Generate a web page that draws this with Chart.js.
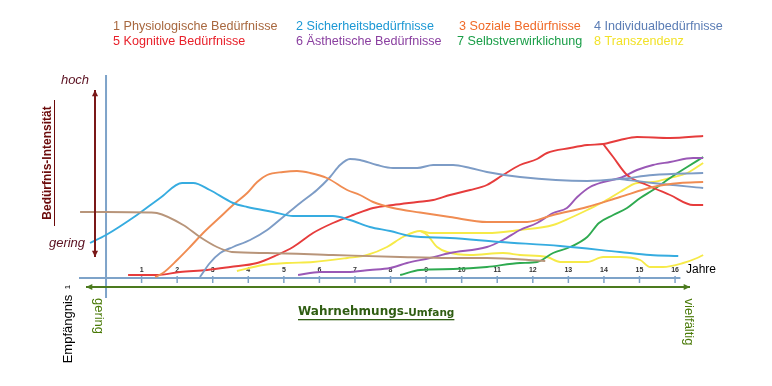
<!DOCTYPE html>
<html>
<head>
<meta charset="utf-8">
<script src="https://cdn.jsdelivr.net/npm/chart.js@4"></script>
<style>
  body { margin: 0; background: #fff; }
  canvas { display: block; }
</style>
</head>
<body>
<canvas id="bedarf" width="772" height="386"></canvas>
<script>
// Jahre (x) und Intensität 0..100 (y)
const jahrTicks = [1, 2, 3, 4, 5, 6, 7, 8, 9, 10, 11, 12, 13, 14, 15, 16];

const physioX = [-0.73, 0, 1.24, 1.43, 2.17, 2.64, 3.12, 3.54, 4.53, 6.38, 8.27, 9.67, 10.71, 12.35];
const physioY = [33, 33, 32.75, 32.5, 26.5, 20.5, 15.5, 13, 12.5, 11.5, 10.5, 10, 10, 8.5];

const sicherX = [-0.45, 0, 0.87, 1.52, 2.14, 2.45, 2.92, 3.57, 3.97, 4.70, 5.26, 6.38, 6.86, 7.42, 7.99, 8.55, 9.67, 11.08, 12.77, 14.45, 15.3, 16.09];
const sicherY = [17.5, 21.5, 31.5, 40, 47.5, 47.5, 44, 37.5, 35.5, 33, 31, 31, 29, 25.5, 23.5, 21, 20, 18, 16, 13, 11.5, 11];

const sozialX = [1.38, 1.60, 2.00, 2.36, 2.73, 3.21, 3.57, 3.97, 4.25, 4.53, 4.98, 5.37, 5.74, 6.21, 6.78, 7.14, 7.51, 8.07, 8.83, 9.67, 10.71, 11.84, 12.57, 13.53, 14.45, 15.38, 16.14, 16.79];
const sozialY = [0.5, 2.5, 9, 15.5, 22.5, 30.5, 36.5, 42.5, 48, 51.5, 53, 53.5, 52.5, 50, 44, 41.5, 38, 35, 32.75, 30.5, 28, 28, 31.5, 35.5, 40.5, 45.5, 47.5, 48];

const individX = [2.64, 2.92, 3.21, 3.57, 4.05, 4.53, 4.98, 5.46, 5.93, 6.30, 6.58, 6.86, 7.14, 7.62, 8.07, 8.75, 9.20, 9.76, 10.24, 10.71, 11.64, 13.53, 14.45, 15.38, 16.79];
const individY = [0.5, 7.5, 12.5, 15.5, 19, 24, 30.5, 37.5, 44, 50.5, 56.5, 59.5, 59, 56.5, 55, 55, 56.5, 56.5, 55, 53, 50.5, 48.5, 49.5, 51.5, 52.5];
const individAstX = [14.45, 15.38, 16.79];
const individAstY = [49.5, 47.5, 45];

const kognitivX = [0.62, 1.43, 2.08, 2.84, 3.49, 4.25, 4.81, 5.26, 5.82, 6.38, 6.95, 7.51, 8.07, 8.75, 9.20, 9.67, 10.24, 10.71, 11.16, 11.64, 12.12, 12.40, 13.05, 13.53, 13.98, 14.45, 14.93, 15.86, 16.79];
const kognitivY = [1.5, 1.5, 3, 4, 5.5, 7.5, 11.5, 15.5, 22.5, 27.5, 31.5, 35, 36.5, 38, 39, 41.5, 44, 46.5, 51.5, 56.5, 59.5, 62.5, 65, 66.5, 67, 69, 70.5, 70, 71];
const kognitivAstX = [13.98, 14.26, 14.65, 15.21, 15.86, 16.51, 16.79];
const kognitivAstY = [67, 60.5, 51.5, 46.5, 41.5, 36.5, 36.5];

const aesthX = [5.40, 6.02, 6.78, 7.42, 7.99, 8.46, 9.11, 9.67, 10.71, 11.16, 11.64, 12.12, 12.57, 12.96, 13.25, 13.61, 13.98, 14.45, 14.93, 15.38, 15.86, 16.51, 16.79];
const aesthY = [1.5, 3, 3, 4, 5, 7.5, 10, 12.5, 15.5, 19, 24, 27.5, 32.5, 35, 40.5, 45.5, 48, 50, 54, 56.5, 58, 60, 60];

const selbstX = [8.27, 8.83, 9.76, 10.71, 11.64, 12.12, 12.57, 13.05, 13.53, 13.86, 14.26, 14.65, 15.02, 15.38, 15.86, 16.34, 16.79];
const selbstY = [1.5, 4, 4.5, 5.5, 7.5, 8, 12.5, 15.5, 20.5, 27.5, 31.5, 35, 40, 44, 50, 55.5, 60.5];

const transX = [3.68, 4.42, 5.09, 5.82, 6.78, 7.34, 7.90, 8.35, 8.83, 9.11, 9.76, 10.71, 11.64, 12.57, 13.05, 13.53, 13.98, 14.45, 14.93, 15.38, 15.86, 16.34, 16.79];
const transY = [3.5, 6.5, 7.5, 8, 10, 11.5, 15.5, 20.5, 23.5, 22.5, 22.5, 22.5, 24, 26.5, 30, 34, 38, 43, 47.5, 48, 50, 52.5, 57.5];
const transAstX = [8.83, 9.03, 9.31, 9.59, 10.24, 11.16, 11.64, 12.40, 12.77, 13.53, 13.98, 14.45, 15.02, 15.30, 15.66, 16.23, 16.62, 16.79];
const transAstY = [23.5, 21.5, 15.5, 13, 11.5, 12.5, 11.5, 10.5, 8, 8, 10.5, 10.5, 9, 5.5, 5.5, 7.5, 10, 11.5];

const legende = [
    ['1 Physiologische Bedürfnisse', '#a8683f', 113, 27],
    ['2 Sicherheitsbedürfnisse', '#1c98d4', 296, 27],
    ['3 Soziale Bedürfnisse', '#f06a28', 459, 27],
    ['4 Individualbedürfnisse', '#5b7db5', 594, 27],
    ['5 Kognitive Bedürfnisse', '#e8202a', 113, 42],
    ['6 Ästhetische Bedürfnisse', '#8a3fa0', 296, 42],
    ['7 Selbstverwirklichung', '#1a9e48', 457, 42],
    ['8 Transzendenz', '#f2e22a', 594, 42]
];

function punkte(xs, ys) {
    return xs.map((x, i) => ({ x: x, y: ys[i] }));
}

function linie(label, xs, ys, farbe) {
    return {
        label: label,
        data: punkte(xs, ys),
        borderColor: farbe,
        borderWidth: 1.9,
        pointRadius: 0,
        fill: false,
        cubicInterpolationMode: 'monotone'
    };
}

function pfeil(ctx, x1, y1, x2, y2, farbe, beide) {
    const kopf = (xa, ya, xb, yb) => {
        const w = Math.atan2(yb - ya, xb - xa);
        ctx.beginPath();
        ctx.moveTo(xb, yb);
        ctx.lineTo(xb - 7 * Math.cos(w - 0.45), yb - 7 * Math.sin(w - 0.45));
        ctx.lineTo(xb - 7 * Math.cos(w + 0.45), yb - 7 * Math.sin(w + 0.45));
        ctx.closePath();
        ctx.fill();
    };
    ctx.strokeStyle = farbe;
    ctx.fillStyle = farbe;
    ctx.lineWidth = 2;
    ctx.beginPath();
    ctx.moveTo(x1, y1);
    ctx.lineTo(x2, y2);
    ctx.stroke();
    kopf(x1, y1, x2, y2);
    if (beide) kopf(x2, y2, x1, y1);
}

function gedreht(ctx, text, x, y, winkel, font, farbe) {
    ctx.save();
    ctx.translate(x, y);
    ctx.rotate(winkel);
    ctx.font = font;
    ctx.fillStyle = farbe;
    ctx.textAlign = 'center';
    ctx.textBaseline = 'middle';
    ctx.fillText(text, 0, 0);
    ctx.restore();
}

const achsenPlugin = {
    id: 'achsen',
    beforeDatasetsDraw(chart) {
        const ctx = chart.ctx;
        const xs = chart.scales.x;
        const ys = chart.scales.y;
        const x0 = xs.getPixelForValue(0);
        const y0 = ys.getPixelForValue(0);
        ctx.save();
        ctx.strokeStyle = '#7ea3c9';
        ctx.lineWidth = 2;
        ctx.beginPath();
        ctx.moveTo(xs.getPixelForValue(-0.76), y0);
        ctx.lineTo(xs.getPixelForValue(16.15), y0);
        ctx.moveTo(x0, 75);
        ctx.lineTo(x0, 298);
        ctx.stroke();
        ctx.lineWidth = 1.5;
        ctx.font = 'bold 7px "Liberation Sans"';
        ctx.fillStyle = '#333';
        ctx.textAlign = 'center';
        ctx.textBaseline = 'middle';
        jahrTicks.forEach((j) => {
            const px = xs.getPixelForValue(j);
            ctx.beginPath();
            ctx.moveTo(px, y0 - 2);
            ctx.lineTo(px, y0 + 5);
            ctx.stroke();
            ctx.fillText(String(j), px, y0 - 8);
        });
        ctx.restore();
    },
    afterDraw(chart) {
        const ctx = chart.ctx;
        ctx.save();
        ctx.textBaseline = 'middle';
        ctx.font = '12.6px "Liberation Sans"';
        legende.forEach(([t, f, x, y]) => {
            ctx.fillStyle = f;
            ctx.fillText(t, x, y);
        });

        // Intensitäts-Pfeil
        pfeil(ctx, 95, 257, 95, 90, '#7a1818', true);
        ctx.font = 'italic 13px "Liberation Sans"';
        ctx.fillStyle = '#5a1020';
        ctx.textAlign = 'center';
        ctx.fillText('hoch', 75, 80);
        ctx.fillText('gering', 67, 243);
        gedreht(ctx, 'Bedürfnis-Intensität', 48, 163, -Math.PI / 2, 'bold 12px "Liberation Sans"', '#6b0a0a');
        ctx.fillStyle = '#6b0a0a';
        ctx.fillRect(54, 100, 1, 126);

        // Wahrnehmungs-Pfeil
        pfeil(ctx, 690, 287, 86, 287, '#4b7a1e', true);
        ctx.textAlign = 'left';
        ctx.fillStyle = '#2f5d12';
        ctx.font = 'bold 12px "DejaVu Sans"';
        const w1 = ctx.measureText('Wahrnehmungs').width;
        ctx.fillText('Wahrnehmungs', 298, 312);
        ctx.font = 'bold 10.5px "DejaVu Sans"';
        const w2 = ctx.measureText('-Umfang').width;
        ctx.fillText('-Umfang', 298 + w1, 313);
        ctx.fillRect(298, 319, w1 + w2, 1.3);

        ctx.font = '12px "Liberation Sans"';
        ctx.fillStyle = '#000';
        ctx.fillText('Jahre', 686, 270);

        gedreht(ctx, 'Empfängnis', 68, 329, -Math.PI / 2, '13px "Liberation Sans"', '#000');
        gedreht(ctx, '1', 68, 287, -Math.PI / 2, '8px "Liberation Sans"', '#000');
        gedreht(ctx, 'gering', 99, 316, Math.PI / 2, '13px "Liberation Sans"', '#4a7a08');
        gedreht(ctx, 'vielfältig', 689, 322, Math.PI / 2, '13px "Liberation Sans"', '#4a7a08');
        ctx.restore();
    }
};

new Chart(document.getElementById('bedarf'), {
    type: 'line',
    data: {
        datasets: [
            linie('1 Physiologische Bedürfnisse', physioX, physioY, '#b8957a'),
            linie('2 Sicherheitsbedürfnisse', sicherX, sicherY, '#36ace0'),
            linie('3 Soziale Bedürfnisse', sozialX, sozialY, '#f08c52'),
            linie('4 Individualbedürfnisse', individX, individY, '#7d9cc6'),
            linie('4b', individAstX, individAstY, '#7d9cc6'),
            linie('5 Kognitive Bedürfnisse', kognitivX, kognitivY, '#e63c3c'),
            linie('5b', kognitivAstX, kognitivAstY, '#e63c3c'),
            linie('6 Ästhetische Bedürfnisse', aesthX, aesthY, '#9a58b6'),
            linie('7 Selbstverwirklichung', selbstX, selbstY, '#2eaa50'),
            linie('8 Transzendenz', transX, transY, '#f6ea48'),
            linie('8b', transAstX, transAstY, '#f6ea48')
        ]
    },
    options: {
        responsive: false,
        animation: false,
        layout: { padding: { left: 79, right: 66, top: 78, bottom: 108 } },
        scales: {
            x: { type: 'linear', min: -0.76, max: 16.87, display: false },
            y: { min: 0, max: 100, display: false }
        },
        plugins: {
            legend: { display: false },
            tooltip: { enabled: false }
        }
    },
    plugins: [achsenPlugin]
});
</script>
</body>
</html>
